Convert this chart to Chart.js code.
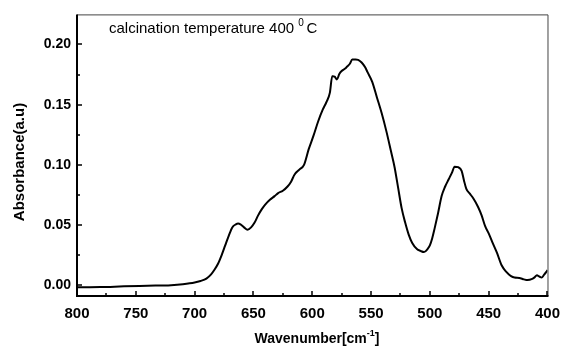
<!DOCTYPE html>
<html>
<head>
<meta charset="utf-8">
<script src="https://cdn.jsdelivr.net/npm/chart.js@4"></script>
<style>
  body { margin: 0; background: #fff; }
  #wrap { width: 569px; height: 347px; }
</style>
</head>
<body>
<div id="wrap"><canvas id="chart" width="569" height="347"></canvas></div>
<script>
// FTIR spectrum, calcination at 400 C

const wavenumber = [800, 780, 760, 740, 720, 710, 700, 695, 690, 686, 683, 680, 677, 674, 671, 668, 665, 663, 661, 658,
  655, 652, 649, 646, 643, 640, 636, 632, 629, 625, 621, 618, 615, 611, 607, 603, 599, 595, 591, 588,
  585, 583, 582, 581, 579, 577, 575, 572, 570, 568, 566, 563, 561, 558, 555, 553, 549, 545, 541, 537,
  533, 530, 527, 524, 521, 518, 515, 511, 508, 505, 502, 500, 498, 496, 493, 490, 487, 484, 481, 479,
  476, 473, 471, 469, 466, 463, 459, 456, 453, 450, 447, 443, 439, 435, 431, 428, 424, 420, 417, 413,
  411, 409, 407, 405, 403, 401, 400];

const absorbance = [-0.0018, -0.0016, -0.0010, -0.0005, 0.0000, 0.0008, 0.0022, 0.0035, 0.0055, 0.009, 0.013, 0.018, 0.025, 0.033, 0.041, 0.048, 0.0505, 0.0512, 0.0505, 0.048,
  0.046, 0.048, 0.052, 0.058, 0.063, 0.067, 0.071, 0.074, 0.0765, 0.0785, 0.082, 0.086, 0.092, 0.096, 0.100, 0.113, 0.124, 0.136, 0.146, 0.152,
  0.160, 0.1737, 0.1735, 0.1733, 0.171, 0.1755, 0.178, 0.180, 0.182, 0.184, 0.1875, 0.1875, 0.1872, 0.185, 0.181, 0.177, 0.169, 0.156, 0.143, 0.128,
  0.111, 0.098, 0.081, 0.064, 0.052, 0.042, 0.035, 0.030, 0.0285, 0.0275, 0.030, 0.033, 0.039, 0.047, 0.060, 0.074, 0.082, 0.088, 0.094, 0.0985,
  0.098, 0.095, 0.087, 0.080, 0.076, 0.072, 0.065, 0.058, 0.049, 0.043, 0.036, 0.027, 0.0165, 0.011, 0.0075, 0.0063, 0.006, 0.0048, 0.0042, 0.0052,
  0.0065, 0.0082, 0.0072, 0.0063, 0.0085, 0.011, 0.0125];

const xTicks = [800, 750, 700, 650, 600, 550, 500, 450, 400];
const xMinorTicks = [775, 725, 675, 625, 575, 525, 475, 425];
const yTicks = [0, 0.05, 0.10, 0.15, 0.20];
const yMinorTicks = [0.025, 0.075, 0.125, 0.175];

const noteText = "calcination temperature 400 ";
const yTitle = "Absorbance(a.u)";

const points = wavenumber.map((w, i) => ({ x: w, y: absorbance[i] }));

// frame, inward ticks, titles and the note
const decorations = {
  id: "decorations",
  afterDraw(chart) {
    const ctx = chart.ctx;
    const a = chart.chartArea;
    const xs = chart.scales.x;
    const ys = chart.scales.y;
    ctx.save();

    // thin top/right border
    ctx.strokeStyle = "#444";
    ctx.lineWidth = 1;
    ctx.beginPath();
    ctx.moveTo(a.left, a.top + 0.5);
    ctx.lineTo(a.right + 0.5, a.top + 0.5);
    ctx.lineTo(a.right + 0.5, a.bottom);
    ctx.stroke();

    // thick left/bottom axes
    ctx.strokeStyle = "#000";
    ctx.lineWidth = 2;
    ctx.beginPath();
    ctx.moveTo(a.left, a.top);
    ctx.lineTo(a.left, a.bottom);
    ctx.lineTo(a.right + 1, a.bottom);
    ctx.stroke();

    // ticks pointing inside
    ctx.lineWidth = 1.5;
    ctx.beginPath();
    xTicks.forEach(v => {
      const px = Math.round(xs.getPixelForValue(v));
      ctx.moveTo(px, a.bottom); ctx.lineTo(px, a.bottom - 5);
    });
    xMinorTicks.forEach(v => {
      const px = Math.round(xs.getPixelForValue(v));
      ctx.moveTo(px, a.bottom); ctx.lineTo(px, a.bottom - 3);
    });
    yTicks.forEach(v => {
      const py = Math.round(ys.getPixelForValue(v));
      ctx.moveTo(a.left, py); ctx.lineTo(a.left + 5, py);
    });
    yMinorTicks.forEach(v => {
      const py = Math.round(ys.getPixelForValue(v));
      ctx.moveTo(a.left, py); ctx.lineTo(a.left + 3, py);
    });
    ctx.stroke();

    ctx.fillStyle = "#000";

    // x title with superscript
    ctx.font = "bold 14px 'Liberation Sans', Arial, sans-serif";
    ctx.textBaseline = "alphabetic";
    const base = "Wavenumber[cm";
    const sup = "-1";
    const end = "]";
    const wBase = ctx.measureText(base).width;
    const wEnd = ctx.measureText(end).width;
    ctx.font = "bold 9px 'Liberation Sans', Arial, sans-serif";
    const wSup = ctx.measureText(sup).width;
    let tx = 317 - (wBase + wSup + wEnd) / 2;
    const ty = 343;
    ctx.font = "bold 14px 'Liberation Sans', Arial, sans-serif";
    ctx.textAlign = "left";
    ctx.fillText(base, tx, ty);
    tx += wBase;
    ctx.font = "bold 9px 'Liberation Sans', Arial, sans-serif";
    ctx.fillText(sup, tx, ty - 7);
    tx += wSup;
    ctx.font = "bold 14px 'Liberation Sans', Arial, sans-serif";
    ctx.fillText(end, tx, ty);

    // y title
    ctx.save();
    ctx.translate(24, 162);
    ctx.rotate(-Math.PI / 2);
    ctx.font = "bold 15px 'Liberation Sans', Arial, sans-serif";
    ctx.textAlign = "center";
    ctx.fillText(yTitle, 0, 0);
    ctx.restore();

    // note at top
    ctx.font = "15px 'Liberation Sans', Arial, sans-serif";
    ctx.textAlign = "left";
    let nx = 109;
    const ny = 33;
    ctx.fillText(noteText, nx, ny);
    nx += ctx.measureText(noteText).width;
    ctx.font = "10px 'Liberation Sans', Arial, sans-serif";
    ctx.fillText("0", nx, ny - 7);
    nx += ctx.measureText("0 ").width;
    ctx.font = "15px 'Liberation Sans', Arial, sans-serif";
    ctx.fillText("C", nx, ny);

    ctx.restore();
  }
};

new Chart(document.getElementById("chart").getContext("2d"), {
  type: "line",
  data: {
    datasets: [{
      data: points,
      borderColor: "#000",
      borderWidth: 2,
      pointRadius: 0,
      fill: false,
      cubicInterpolationMode: "monotone"
    }]
  },
  options: {
    responsive: false,
    animation: false,
    layout: { padding: { left: 0, top: 12, right: 12, bottom: 0 } },
    plugins: { legend: { display: false }, tooltip: { enabled: false } },
    scales: {
      x: {
        type: "linear",
        reverse: true,
        min: 400,
        max: 800,
        grid: { display: false, drawTicks: false },
        border: { display: false },
        afterBuildTicks: s => { s.ticks = xTicks.map(v => ({ value: v })); },
        afterFit: s => { s.height = 51; },
        ticks: {
          padding: 9,
          color: "#000",
          maxRotation: 0,
          font: { family: "'Liberation Sans', Arial, sans-serif", size: 15, weight: "bold" }
        }
      },
      y: {
        min: -0.009,
        max: 0.225,
        grid: { display: false, drawTicks: false },
        border: { display: false },
        afterBuildTicks: s => { s.ticks = yTicks.map(v => ({ value: v })); },
        afterFit: s => { s.width = 77; },
        ticks: {
          padding: 6,
          color: "#000",
          callback: v => v.toFixed(2),
          font: { family: "'Liberation Sans', Arial, sans-serif", size: 14, weight: "bold" }
        }
      }
    }
  },
  plugins: [decorations]
});
</script>
</body>
</html>
